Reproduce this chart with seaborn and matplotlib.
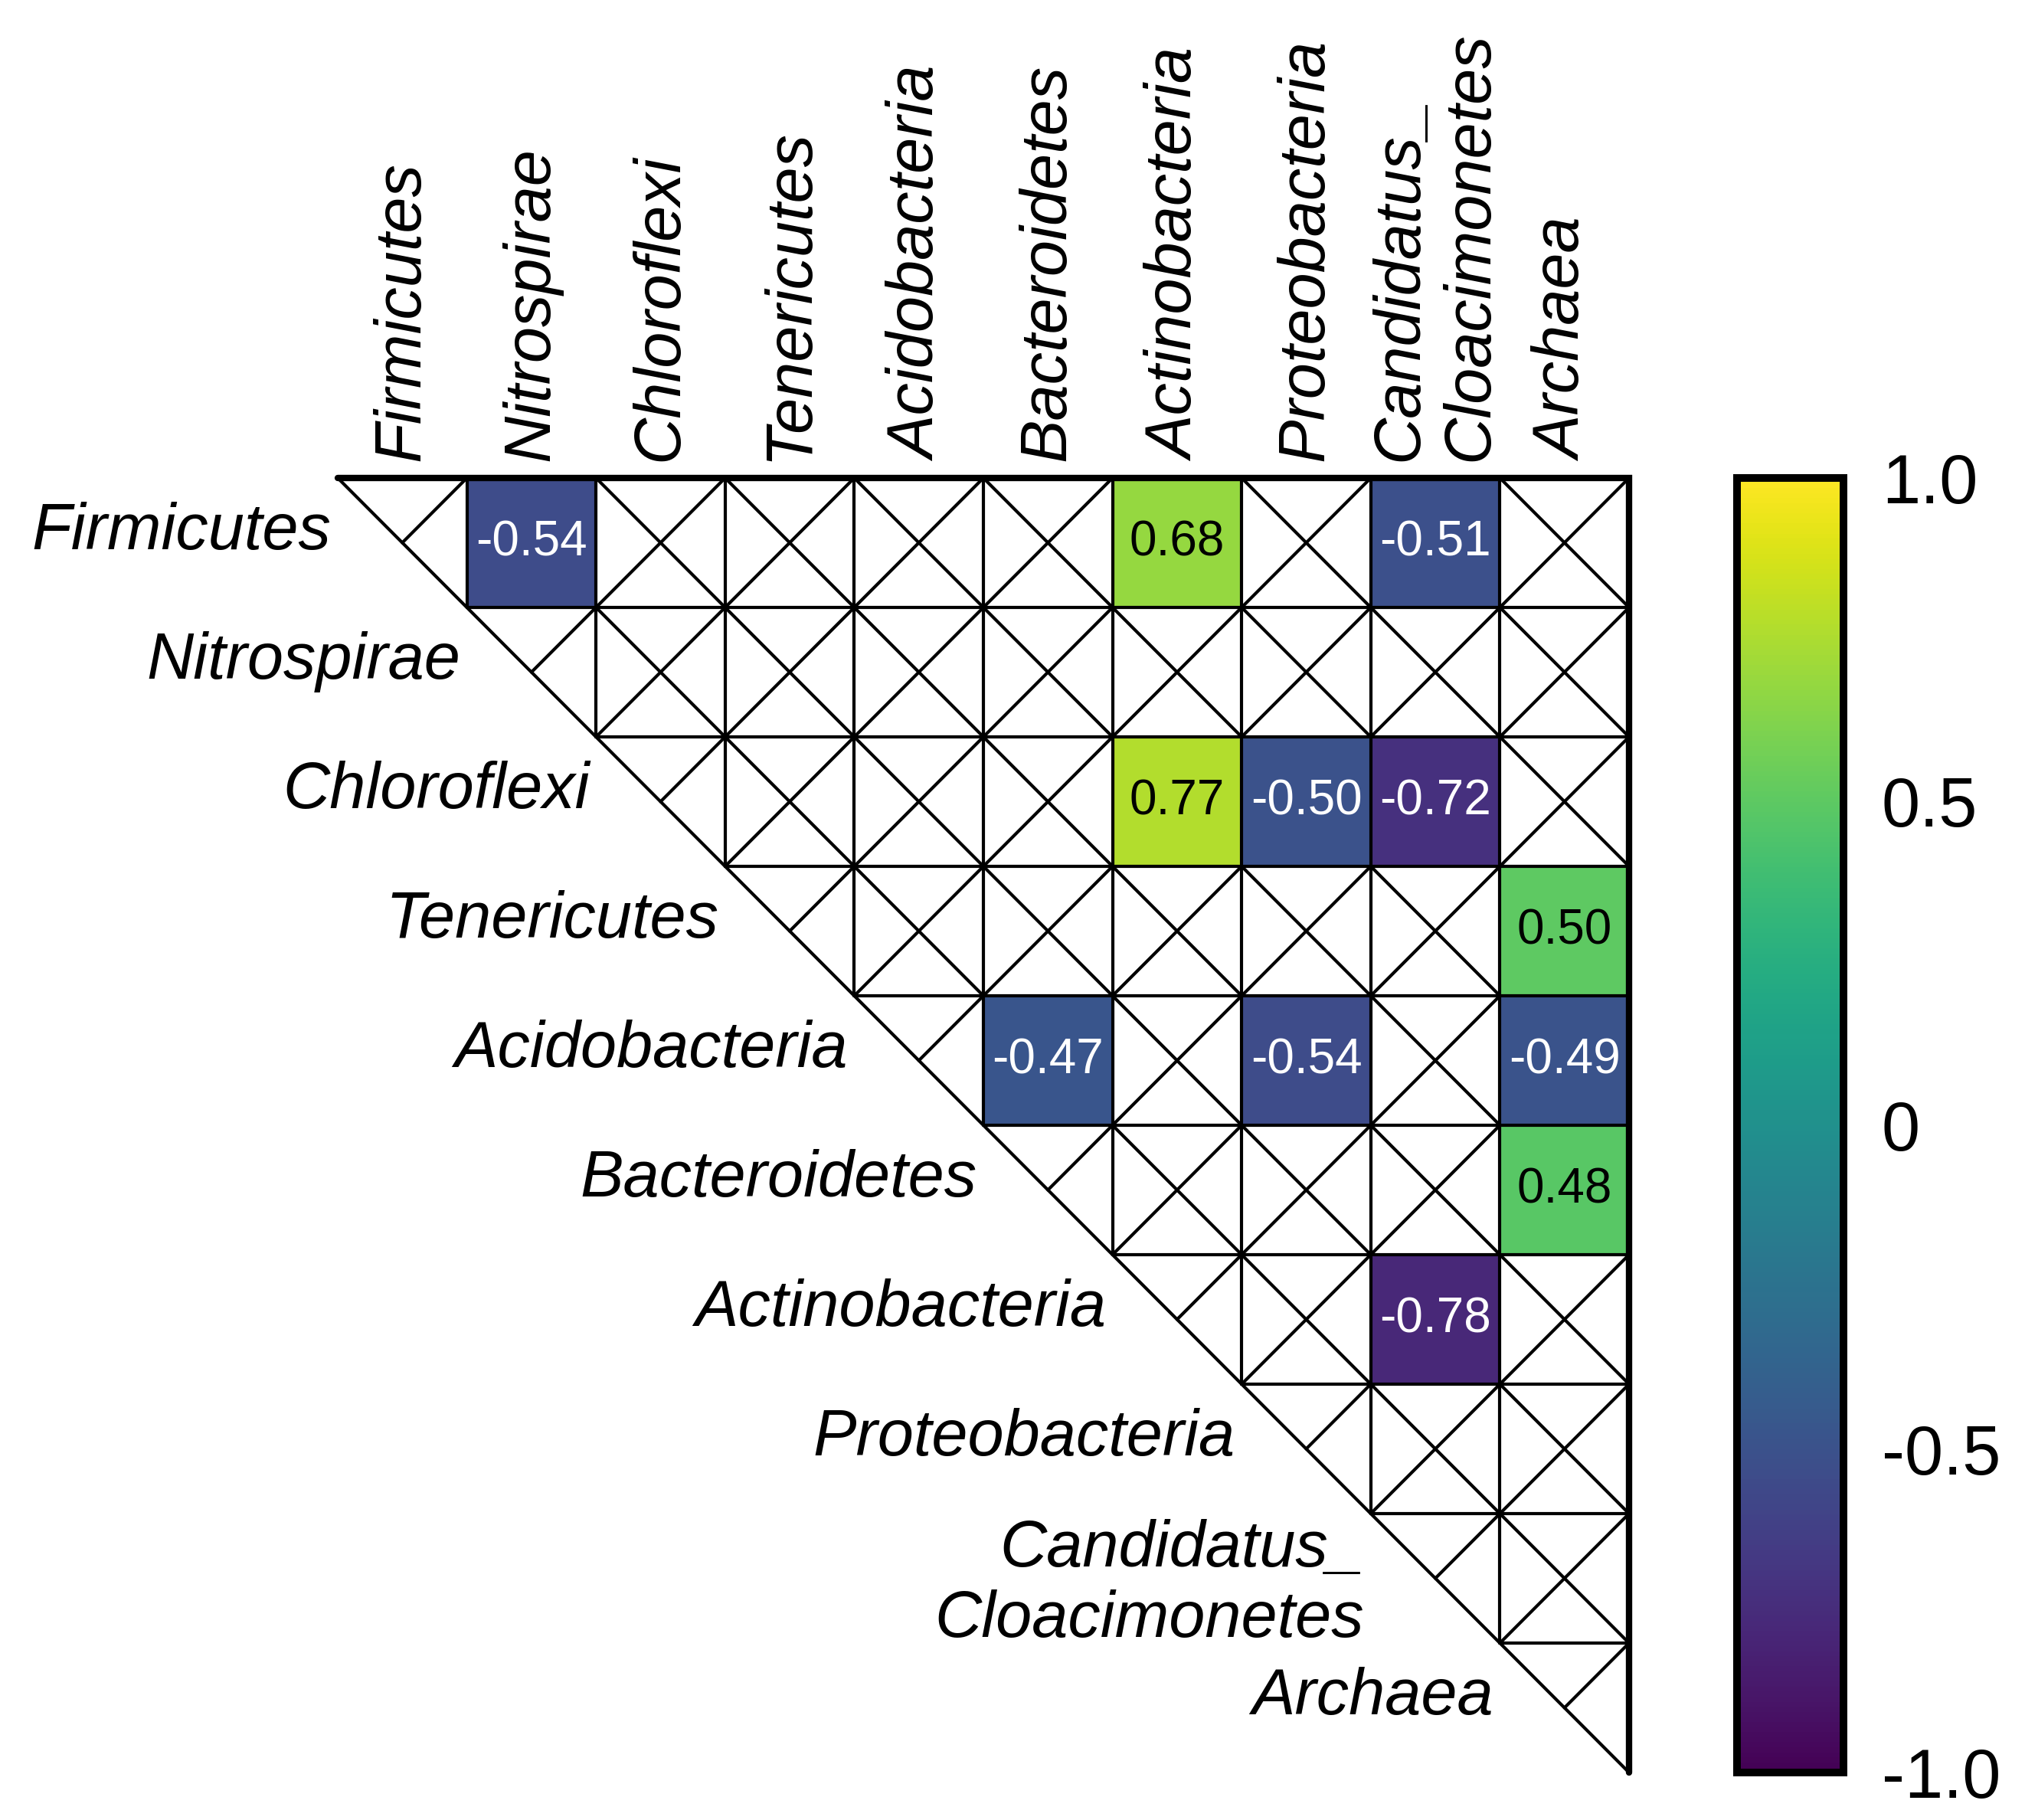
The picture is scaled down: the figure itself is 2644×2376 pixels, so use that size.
import seaborn as sns
import pandas as pd
import numpy as np
import matplotlib
matplotlib.use("Agg")
from matplotlib import pyplot as plt

sns.set_theme(style="white")
plt.rcParams["font.family"] = ["Liberation Sans", "DejaVu Sans"]
plt.rcParams["text.color"] = "black"
plt.rcParams["ytick.color"] = "black"
plt.rcParams["ytick.labelcolor"] = "black"

TAXA = ["Firmicutes", "Nitrospirae", "Chloroflexi", "Tenericutes", "Acidobacteria",
        "Bacteroidetes", "Actinobacteria", "Proteobacteria",
        "Candidatus_\nCloacimonetes", "Archaea"]

# significant correlations only (everything else gets a cross)
SIG_ROW = ["Firmicutes", "Firmicutes", "Firmicutes",
           "Chloroflexi", "Chloroflexi", "Chloroflexi",
           "Tenericutes",
           "Acidobacteria", "Acidobacteria", "Acidobacteria",
           "Bacteroidetes",
           "Actinobacteria"]
SIG_COL = ["Nitrospirae", "Actinobacteria", "Candidatus_\nCloacimonetes",
           "Actinobacteria", "Proteobacteria", "Candidatus_\nCloacimonetes",
           "Archaea",
           "Bacteroidetes", "Proteobacteria", "Archaea",
           "Archaea",
           "Candidatus_\nCloacimonetes"]
SIG_VAL = [-0.54, 0.68, -0.51,
           0.77, -0.50, -0.72,
           0.50,
           -0.47, -0.54, -0.49,
           0.48,
           -0.78]

CBAR_TICKS = [-1.0, -0.5, 0.0, 0.5, 1.0]
CBAR_LABELS = ["-1.0", "-0.5", "0", "0.5", "1.0"]

THIN = 1.5
THICK = 3.0
LABEL_SIZE = 30.5


def build_matrix():
    df = pd.DataFrame(np.nan, index=TAXA, columns=TAXA)
    for r, c, v in zip(SIG_ROW, SIG_COL, SIG_VAL):
        df.loc[r, c] = v
    return df


def plot_corr_triangle(save_path="out.png"):
    df = build_matrix()
    mask = df.isna()
    n = len(TAXA)

    W, H = 2644, 2376
    fig = plt.figure(figsize=(W / 200, H / 200), dpi=200, facecolor="white")
    ax = fig.add_axes([441 / W, 1 - 2314 / H, 1686 / W, 1690 / H])
    cax = fig.add_axes([2268 / W, 1 - 2314 / H, 139 / W, 1690 / H])

    sns.heatmap(df, mask=mask, cmap="viridis", vmin=-1, vmax=1,
                annot=True, fmt=".2f", annot_kws={"size": 23},
                xticklabels=False, yticklabels=False,
                cbar_ax=cax, ax=ax)
    # seaborn picks dark grey for light cells; the original uses pure black
    for t in ax.texts:
        if t.get_color() != "w":
            t.set_color("black")

    # grid of the upper triangle
    for k in range(n + 1):
        ax.plot([k, n], [k, k], color="black", lw=THIN, clip_on=False)
        ax.plot([k, k], [0, k], color="black", lw=THIN, clip_on=False)
    ax.plot([0, n], [0, n], color="black", lw=THIN, clip_on=False)

    # crosses on non significant cells
    for i in range(n):
        for j in range(i, n):
            if not mask.iloc[i, j]:
                continue
            if j == i:
                ax.plot([j + 1, j + 0.5], [i, i + 0.5], color="black", lw=THIN, clip_on=False)
            else:
                ax.plot([j, j + 1], [i, i + 1], color="black", lw=THIN, clip_on=False)
                ax.plot([j + 1, j], [i, i + 1], color="black", lw=THIN, clip_on=False)

    # thick outer border (top + right)
    ax.plot([0, n, n], [0, 0, n], color="black", lw=THICK, clip_on=False,
            solid_joinstyle="miter")

    # labels
    for j, name in enumerate(TAXA):
        ax.text(j + 0.5, -0.13, name, rotation=90, ha="center", va="bottom",
                multialignment="left", style="italic", fontsize=LABEL_SIZE,
                color="black")
    for i, name in enumerate(TAXA):
        y = i + 0.42 if "\n" not in name else i + 0.55
        ax.text(i - 0.05, y, name, ha="right", va="center",
                multialignment="right", style="italic", fontsize=LABEL_SIZE,
                color="black")

    # colorbar
    cbar = ax.collections[0].colorbar
    cbar.set_ticks(CBAR_TICKS)
    cbar.set_ticklabels(CBAR_LABELS)
    cbar.outline.set_linewidth(3.6)
    cbar.outline.set_edgecolor("black")
    cax.tick_params(axis="y", direction="in", left=True, right=True,
                    length=7.5, width=3, color="black", labelcolor="black",
                    labelsize=32.5, pad=18)

    fig.savefig(save_path, dpi=200, facecolor="white")


if __name__ == "__main__":
    plot_corr_triangle("out.png")
